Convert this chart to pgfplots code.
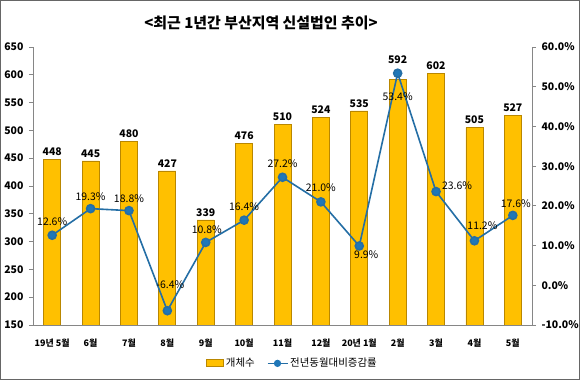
\documentclass[border=0pt]{standalone}
\usepackage{pgfplots}
\usepackage{pgfplotstable}
\pgfplotsset{compat=1.18}
\usepackage{fontspec}
\setmainfont{Noto Sans CJK KR}
\definecolor{barfill}{RGB}{255,192,0}
\definecolor{bardraw}{RGB}{185,135,0}
\definecolor{lineblue}{RGB}{36,110,165}
\definecolor{markblue}{RGB}{31,119,184}
\definecolor{axgray}{RGB}{134,134,134}
\pgfplotstableread{
x y dy
0 448 0
1 445 0
2 480 0
3 427 0
4 339 0
5 476 0
6 510 0
7 524 0
8 535 0
9 592 12
10 602 0
11 505 0
12 527 0
}\bars
\pgfplotstableread{
x y
0 12.6
1 19.3
2 18.8
3 -6.4
4 10.8
5 16.4
6 27.2
7 21.0
8 9.9
9 53.4
10 23.6
11 11.2
12 17.6
}\rates
\begin{document}
\begin{tikzpicture}
\begin{axis}[
  name=main,
  scale only axis, width=499bp, height=278bp,
  xmin=-0.5, xmax=12.5, ymin=150, ymax=650,
  axis y line*=left, axis x line*=bottom,
  axis line style={draw=axgray, line width=0.8bp},
  every tick/.style={draw=axgray, line width=0.8bp},
  xtick={0,...,12},
  xticklabels={19년 5월,6월,7월,8월,9월,10월,11월,12월,20년 1월,2월,3월,4월,5월},
  x tick label style={font=\bfseries\fontsize{9}{10}\selectfont, yshift=-6bp},
  major x tick style={draw=none},
  extra x ticks={0.5,1.5,...,11.5},
  extra x tick labels={},
  extra x tick style={tick align=inside, major tick length=5bp, tick style={draw=axgray}},
  ytick={150,200,...,650},
  y tick label style={font=\bfseries\fontsize{10.5}{11}\selectfont, xshift=-2bp},
  /pgf/number format/assume math mode=true,
  tick align=outside, major tick length=4bp,
  nodes near coords,
  visualization depends on={\thisrow{dy}\as\dy},
  every node near coord/.append style={font=\bfseries\fontsize{10.5}{11}\selectfont, black, yshift=\dy bp},
]
\addplot[ybar, bar width=17bp, fill=barfill, draw=bardraw, line width=0.8bp] table[x=x, y=y] {\bars};
\end{axis}
\begin{axis}[
  scale only axis, width=499bp, height=278bp,
  xmin=-0.5, xmax=12.5, ymin=-10, ymax=60,
  axis y line*=right, axis x line=none,
  axis line style={draw=axgray, line width=0.8bp},
  every tick/.style={draw=axgray, line width=0.8bp},
  ytick={-10,0,...,60},
  yticklabel={\pgfmathprintnumber[fixed,fixed zerofill,precision=1]{\tick}\%},
  y tick label style={font=\bfseries\fontsize{10.5}{11}\selectfont, xshift=2bp},
  /pgf/number format/assume math mode=true,
  tick align=outside, major tick length=4bp,
  legend style={at={(0.52,-0.138)}, anchor=center, draw=none, fill=none,
    font=\fontsize{10.5}{11}\selectfont, legend columns=2,
    /tikz/every even column/.append style={column sep=10bp}},
  clip=false,
]
\addlegendimage{legend image code/.code={\draw[fill=barfill, draw=bardraw, line width=0.8bp] (0bp,-3.5bp) rectangle (17bp,3.5bp);}}
\addlegendentry{개체수}
\addplot[lineblue, line width=1.6bp, mark=*, mark size=4bp, mark options={fill=markblue, draw=lineblue},
  legend image code/.code={\draw[lineblue, line width=1.4bp] (0bp,0bp) -- (20bp,0bp); \fill[markblue] (10bp,0bp) circle (2.8bp);}] table[x=x, y=y] {\rates};
\addlegendentry{전년동월대비증감률}
\begin{scope}[every node/.style={font=\fontsize{10.5}{11}\selectfont, black, inner sep=0pt}]
\node[yshift=14bp] at (axis cs:0,12.6) {12.6\%};
\node[yshift=12bp] at (axis cs:1,19.3) {19.3\%};
\node[yshift=12bp] at (axis cs:2,18.8) {18.8\%};
\node[yshift=26bp, xshift=3bp] at (axis cs:3,-6.4) {-6.4\%};
\node[yshift=13bp, xshift=1bp] at (axis cs:4,10.8) {10.8\%};
\node[yshift=13bp] at (axis cs:5,16.4) {16.4\%};
\node[yshift=14bp] at (axis cs:6,27.2) {27.2\%};
\node[yshift=14bp] at (axis cs:7,21.0) {21.0\%};
\node[yshift=-9bp, xshift=7bp] at (axis cs:8,9.9) {9.9\%};
\node[yshift=-23bp] at (axis cs:9,53.4) {53.4\%};
\node[yshift=6bp, xshift=21bp] at (axis cs:10,23.6) {23.6\%};
\node[yshift=15bp, xshift=8bp] at (axis cs:11,11.2) {11.2\%};
\node[yshift=12bp, xshift=3bp] at (axis cs:12,17.6) {17.6\%};
\end{scope}
\end{axis}
\node[font=\bfseries\fontsize{15}{16}\selectfont] at ([shift={(228bp,302bp)}]main.south west) {<최근 1년간 부산지역 신설법인 추이>};
\pgfresetboundingbox
\useasboundingbox ([shift={(-33bp,-55bp)}]main.south west) rectangle ([shift={(547bp,325bp)}]main.south west);
\draw[gray!80!black, line width=1bp] ([shift={(-32bp,-54bp)}]main.south west) rectangle ([shift={(546bp,324bp)}]main.south west);
\end{tikzpicture}
\end{document}
